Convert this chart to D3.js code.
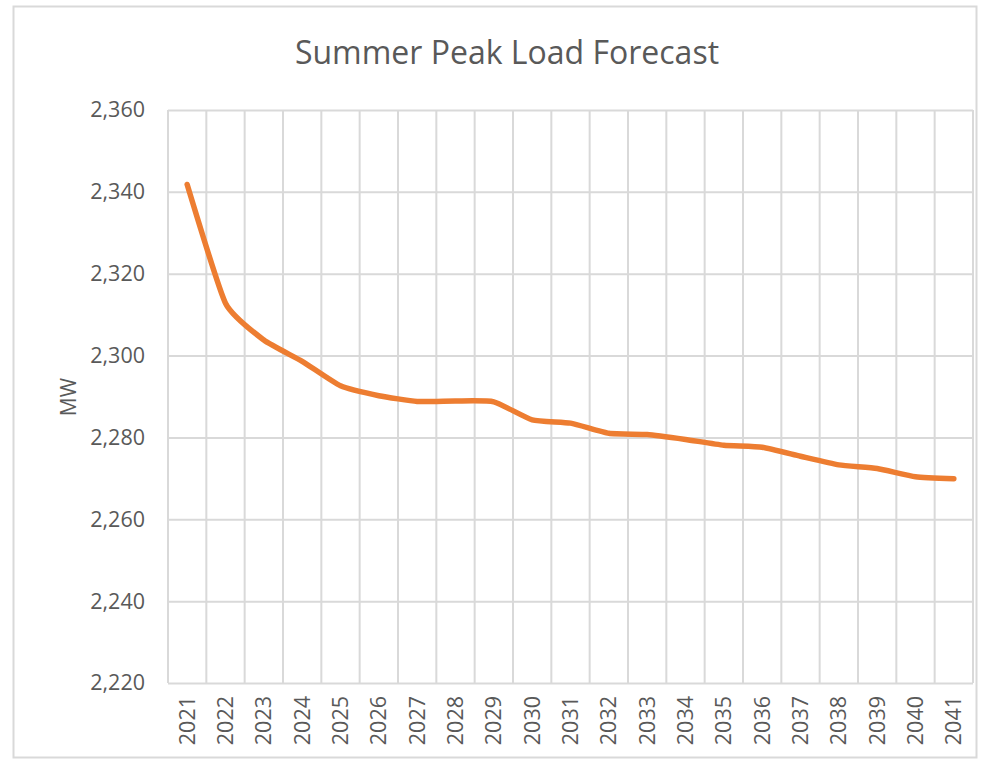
<!DOCTYPE html>
<html>
<head>
<meta charset="utf-8">
<script src="https://cdn.jsdelivr.net/npm/d3@7"></script>
<style>
  body { margin: 0; background: #fff; }
  svg { display: block; }
  svg text { font-family: "Open Sans", "Noto Sans", sans-serif; }
</style>
</head>
<body>
<div id="wrapper"></div>
<script>
// 0. Data
const years = ["2021","2022","2023","2024","2025","2026","2027","2028","2029","2030",
  "2031","2032","2033","2034","2035","2036","2037","2038","2039","2040","2041"]
const peakLoad = [2341.8, 2312.8, 2303.8, 2298.6, 2292.6, 2290.2, 2288.8, 2288.9, 2288.7, 2284.3,
  2283.5, 2281.0, 2280.7, 2279.5, 2278.1, 2277.6, 2275.4, 2273.3, 2272.4, 2270.4, 2269.9]
const yTicks = [2220, 2240, 2260, 2280, 2300, 2320, 2340, 2360]
const chartTitle = "Summer Peak Load Forecast"
const yLabel = "MW"

function drawChart() {
  const dimensions = {
    width: 987,
    height: 765,
    margin: { top: 110, right: 14, bottom: 82, left: 168 },
  }
  dimensions.boundedWidth = dimensions.width - dimensions.margin.left - dimensions.margin.right
  dimensions.boundedHeight = dimensions.height - dimensions.margin.top - dimensions.margin.bottom

  const wrapper = d3.select("#wrapper")
    .append("svg")
      .attr("width", dimensions.width)
      .attr("height", dimensions.height)

  // chart frame
  wrapper.append("rect")
    .attr("x", 13.5)
    .attr("y", 6.5)
    .attr("width", 963)
    .attr("height", 751)
    .attr("fill", "#fff")
    .attr("stroke", "#d9d9d9")
    .attr("stroke-width", 2)

  const bounds = wrapper.append("g")
    .attr("transform", `translate(${dimensions.margin.left},${dimensions.margin.top})`)

  // scales
  const xScale = d3.scaleBand()
    .domain(years)
    .range([0, dimensions.boundedWidth])
    .padding(0)

  const yScale = d3.scaleLinear()
    .domain([2220, 2360])
    .range([dimensions.boundedHeight, 0])

  const grid = "#d9d9d9"

  // horizontal gridlines + y labels
  const yAxis = bounds.append("g")
    .attr("font-family", null)
    .call(d3.axisLeft(yScale)
      .tickValues(yTicks)
      .tickSize(-dimensions.boundedWidth)
      .tickPadding(23)
      .tickFormat(d3.format(",")))
  yAxis.attr("font-family", null)
  yAxis.select(".domain").remove()
  yAxis.selectAll(".tick line").attr("stroke", grid).attr("stroke-width", 2)
  yAxis.selectAll(".tick text")
    .attr("fill", "#595959")
    .style("font-size", "21.5px")

  // vertical gridlines at category boundaries
  const edges = years.map(y => xScale(y)).concat([dimensions.boundedWidth])
  bounds.append("g")
    .selectAll("line")
    .data(edges)
    .join("line")
      .attr("x1", d => d)
      .attr("x2", d => d)
      .attr("y1", 0)
      .attr("y2", dimensions.boundedHeight)
      .attr("stroke", grid)
      .attr("stroke-width", 2)

  // x labels
  const xAxis = bounds.append("g")
    .attr("transform", `translate(0,${dimensions.boundedHeight})`)
    .call(d3.axisBottom(xScale).tickSize(0))
  xAxis.attr("font-family", null)
  xAxis.select(".domain").remove()
  xAxis.selectAll(".tick text")
    .attr("fill", "#595959")
    .style("font-size", "21.5px")
    .attr("text-anchor", "end")
    .attr("transform", "rotate(-90)")
    .attr("x", -13)
    .attr("y", 0)
    .attr("dy", "0.35em")

  // line
  const lineGenerator = d3.line()
    .x((d, i) => xScale(years[i]) + xScale.bandwidth() / 2)
    .y(d => yScale(d))
    .curve(d3.curveCardinal.tension(0.5))

  bounds.append("path")
    .attr("d", lineGenerator(peakLoad))
    .attr("fill", "none")
    .attr("stroke", "#ED7D31")
    .attr("stroke-width", 5.5)
    .attr("stroke-linecap", "round")
    .attr("stroke-linejoin", "round")

  // title
  wrapper.append("text")
    .attr("x", 507)
    .attr("y", 64)
    .attr("text-anchor", "middle")
    .attr("fill", "#595959")
    .style("font-size", "32px")
    .text(chartTitle)

  // y axis label
  wrapper.append("text")
    .attr("transform", "translate(76,397) rotate(-90)")
    .attr("text-anchor", "middle")
    .attr("fill", "#595959")
    .style("font-size", "21px")
    .text(yLabel)
}
drawChart()
</script>
</body>
</html>
